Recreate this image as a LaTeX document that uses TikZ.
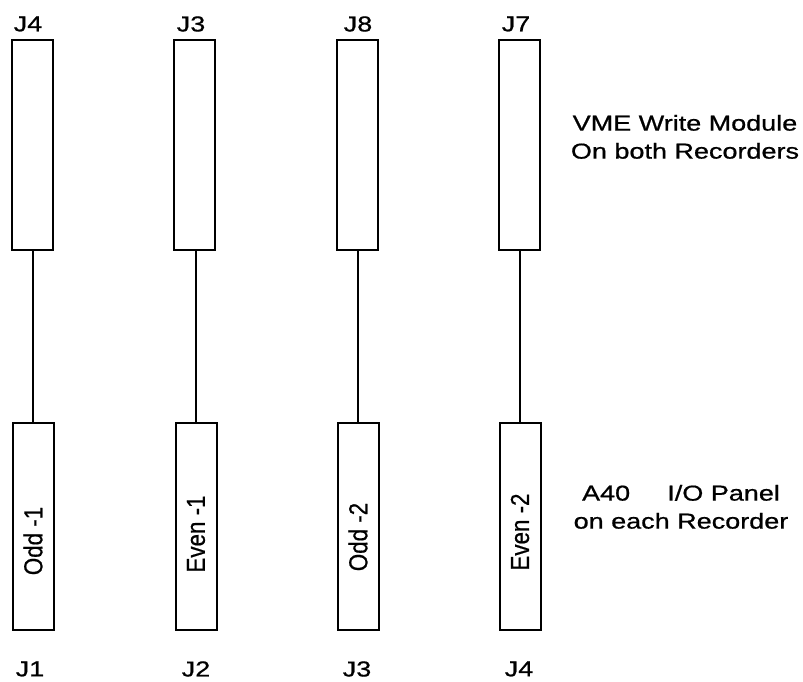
\documentclass[tikz,border=0pt]{standalone}
\usepackage{fontspec}
\setmainfont{Liberation Sans}[FakeBold=0.7]
\usepackage{graphicx}
\newcommand{\vsq}[1]{\scalebox{1}[0.8]{#1}}
\newcommand{\rsq}[1]{\scalebox{0.86}[1]{#1}}
\begin{document}
\begin{tikzpicture}[x=1pt,y=1pt,
  box/.style={draw, line width=2pt, inner sep=0pt, minimum width=41pt},
  topbox/.style={box, minimum height=210pt},
  botbox/.style={box, minimum height=207pt},
  lbl/.style={inner sep=0pt, font=\fontsize{27}{35}\selectfont},
  rot/.style={inner sep=0pt, rotate=90, font=\fontsize{26}{30}\selectfont},
  wire/.style={line width=2pt}]
\useasboundingbox (0,0) rectangle (803,-682);
% top boxes (VME write module connectors)
\node[topbox] (t1) at (32,-145) {};
\node[topbox] (t2) at (194,-145) {};
\node[topbox] (t3) at (357,-145) {};
\node[topbox] (t4) at (519,-145) {};
% bottom boxes (I/O panel)
\node[botbox] (b1) at (33,-526.5) {};
\node[botbox] (b2) at (196,-526.5) {};
\node[botbox] (b3) at (358,-526.5) {};
\node[botbox] (b4) at (520,-526.5) {};
% rotated labels
\node[rot] (r1) at (33,-541) {\rsq{Odd -1}};
\node[rot] (r2) at (196,-534) {\rsq{Even -1}};
\node[rot] (r3) at (358,-537) {\rsq{Odd -2}};
\node[rot] (r4) at (520,-532) {\rsq{Even -2}};
% connectors
\draw[wire] (b1.north |- t1.south) -- (b1.north);
\draw[wire] (b2.north |- t2.south) -- (b2.north);
\draw[wire] (b3.north |- t3.south) -- (b3.north);
\draw[wire] (b4.north |- t4.south) -- (b4.north);
% top labels
\node[lbl] (lt1) at (28,-24) {\vsq{J4}};
\node[lbl] (lt2) at (191,-24) {\vsq{J3}};
\node[lbl] (lt3) at (358,-24) {\vsq{J8}};
\node[lbl] (lt4) at (516,-24) {\vsq{J7}};
% bottom labels
\node[lbl] (lb1) at (30,-669) {\vsq{J1}};
\node[lbl] (lb2) at (196,-669) {\vsq{J2}};
\node[lbl] (lb3) at (357,-669) {\vsq{J3}};
\node[lbl] (lb4) at (519,-669) {\vsq{J4}};
% right side texts
\node[lbl] (vme) at (685,-139) {\vsq{\begin{tabular}{@{}c@{}}VME Write Module\\On both Recorders\end{tabular}}};
\node[lbl] (a40) at (681,-509) {\vsq{\begin{tabular}{@{}c@{}}A40\hspace{1.1em} I/O Panel\\on each Recorder\end{tabular}}};
\end{tikzpicture}
\end{document}
